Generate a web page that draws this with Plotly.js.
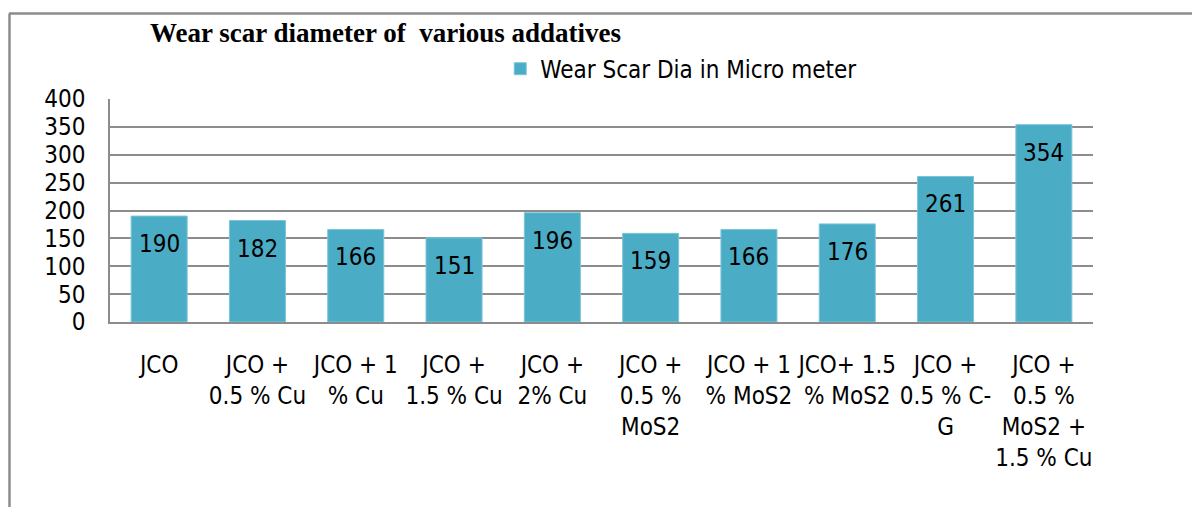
<!DOCTYPE html>
<html>
<head>
<meta charset="utf-8">
<script src="https://cdn.plot.ly/plotly-3.0.1.min.js"></script>
<style>html,body{margin:0;padding:0;background:#fff;}#chart{width:1192px;height:507px;}</style>
</head>
<body>
<div id="chart"></div>
<script>
const categories = [
  "JCO",
  "JCO +<br>0.5 % Cu",
  "JCO + 1<br>% Cu",
  "JCO +<br>1.5 % Cu",
  "JCO +<br>2% Cu",
  "JCO +<br>0.5 %<br>MoS2",
  "JCO + 1<br>% MoS2",
  "JCO+ 1.5<br>% MoS2",
  "JCO +<br>0.5 % C-<br>G",
  "JCO +<br>0.5 %<br>MoS2 +<br>1.5 % Cu"
];
const values = [190, 182, 166, 151, 196, 159, 166, 176, 261, 354];
const yTicks = [0, 50, 100, 150, 200, 250, 300, 350, 400];
const seriesName = "Wear Scar Dia in Micro meter";
const chartTitle = "Wear scar diameter of\u00a0 various addatives";

const FONT = "'DejaVu Sans Condensed', 'Liberation Sans', sans-serif";
const BAR = "#4BACC6";

const trace = {
  type: "bar",
  x: categories,
  y: values,
  name: seriesName,
  marker: {color: BAR, line: {color: "#7cc6da", width: 1}},
  hoverinfo: "x+y",
  showlegend: true
};

const annotations = values.map((v, i) => ({
  x: categories[i], y: v, xref: "x", yref: "y",
  text: String(v), showarrow: false,
  yanchor: "middle", yshift: -28,
  font: {family: FONT, size: 24, color: "#000"}
}));

const gray = "#8c8c8c";
const layout = {
  width: 1192, height: 507,
  margin: {l: 110, r: 99, t: 99, b: 185, pad: 0},
  paper_bgcolor: "#fff", plot_bgcolor: "#fff",
  title: {
    text: "<b>" + chartTitle + "</b>",
    x: 150/1192, xanchor: "left", xref: "container",
    y: 1 - 33/507, yanchor: "middle", yref: "container",
    font: {family: "'Liberation Serif', 'Times New Roman', serif", size: 27, color: "#000"}
  },
  showlegend: true,
  legend: {
    orientation: "h", x: 0.397, xanchor: "left", y: 1.134, yanchor: "middle",
    font: {family: FONT, size: 24, color: "#000"},
    bgcolor: "rgba(0,0,0,0)", itemclick: false
  },
  bargap: 0.43,
  xaxis: {
    type: "category",
    showgrid: false, zeroline: false,
    showline: true, linecolor: gray, linewidth: 2,
    ticks: "outside", ticklen: 20, tickcolor: "rgba(0,0,0,0)",
    tickangle: 0,
    tickfont: {family: FONT, size: 24, color: "#000"},
    fixedrange: true
  },
  yaxis: {
    range: [0, 400], tickvals: yTicks, ticktext: yTicks.map(String),
    showgrid: true, gridcolor: gray, gridwidth: 1.5,
    zeroline: false,
    showline: true, linecolor: gray, linewidth: 1.5,
    ticks: "outside", ticklen: 18, tickcolor: "rgba(0,0,0,0)",
    tickfont: {family: FONT, size: 24, color: "#000"},
    fixedrange: true
  },
  annotations: annotations,
  shapes: [
    {type: "line", xref: "paper", yref: "paper", x0: (9-110)/983, x1: 1.2, y0: (322-13.5)/223, y1: (322-13.5)/223, line: {color: gray, width: 2.5}},
    {type: "line", xref: "paper", yref: "paper", x0: (9.5-110)/983, x1: (9.5-110)/983, y0: (322-13.5)/223, y1: -1, line: {color: gray, width: 2.5}}
  ]
};

Plotly.newPlot("chart", [trace], layout, {displayModeBar: false});
</script>
</body>
</html>
